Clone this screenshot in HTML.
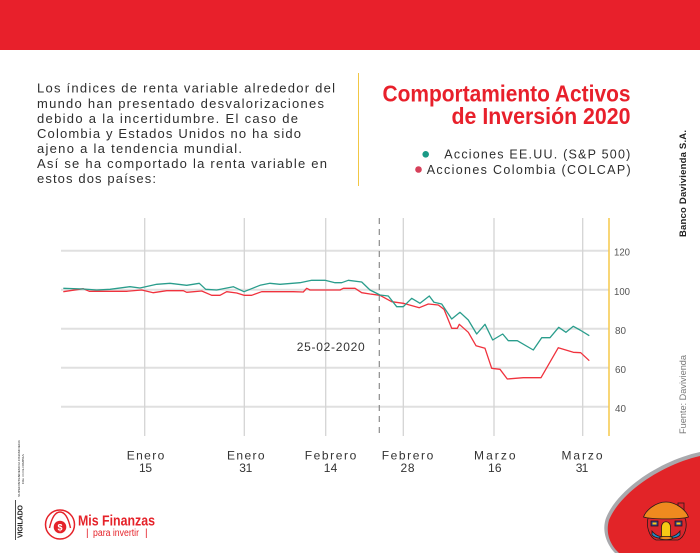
<!DOCTYPE html>
<html>
<head>
<meta charset="utf-8">
<style>
html,body{margin:0;padding:0;background:#fff;}
body{width:700px;height:553px;overflow:hidden;}
svg{display:block;}
text{font-family:"Liberation Sans",sans-serif;}
</style>
</head>
<body>
<svg width="700" height="553" viewBox="0 0 700 553" xmlns="http://www.w3.org/2000/svg">
  <!-- top red band -->
  <rect x="0" y="0" width="700" height="50" fill="#e8202b"/>

  <!-- paragraph -->
  <g fill="#2e2e2e" font-size="13" lengthAdjust="spacing">
    <text x="37" y="92.5" textLength="298" lengthAdjust="spacing">Los índices de renta variable alrededor del</text>
    <text x="37" y="108" textLength="287" lengthAdjust="spacing">mundo han presentado desvalorizaciones</text>
    <text x="37" y="123" textLength="261" lengthAdjust="spacing">debido a la incertidumbre. El caso de</text>
    <text x="37" y="138" textLength="264" lengthAdjust="spacing">Colombia y Estados Unidos no ha sido</text>
    <text x="37" y="153" textLength="205" lengthAdjust="spacing">ajeno a la tendencia mundial.</text>
    <text x="37" y="168" textLength="290" lengthAdjust="spacing">Así se ha comportado la renta variable en</text>
    <text x="37" y="183" textLength="119" lengthAdjust="spacing">estos dos países:</text>
  </g>

  <!-- separator -->
  <line x1="358.5" y1="73" x2="358.5" y2="186" stroke="#f2c744" stroke-width="1"/>

  <!-- title -->
  <g fill="#e8202b" font-weight="bold" font-size="23">
    <text x="382.5" y="101.5" textLength="248" lengthAdjust="spacingAndGlyphs">Comportamiento Activos</text>
    <text x="451.5" y="124" textLength="179" lengthAdjust="spacingAndGlyphs">de Inversión 2020</text>
  </g>

  <!-- legend -->
  <circle cx="425.7" cy="154.3" r="3.3" fill="#1a9a86"/>
  <text x="444.3" y="158.6" font-size="12.5" fill="#2e2e2e" textLength="186" lengthAdjust="spacing">Acciones EE.UU. (S&amp;P 500)</text>
  <circle cx="418.5" cy="169.5" r="3.3" fill="#d6405a"/>
  <text x="426.7" y="174" font-size="12.5" fill="#2e2e2e" textLength="204" lengthAdjust="spacing">Acciones Colombia (COLCAP)</text>

  <!-- vertical side texts -->
  <text transform="translate(686,237) rotate(-90)" font-size="9.5" font-weight="bold" fill="#222" textLength="107" lengthAdjust="spacing">Banco Davivienda S.A.</text>
  <text transform="translate(686,434) rotate(-90)" font-size="9" fill="#777" textLength="79" lengthAdjust="spacingAndGlyphs">Fuente: Davivienda</text>

  <!-- horizontal gridlines -->
  <g stroke="#e0e0e0" stroke-width="2">
    <line x1="61" y1="250.7" x2="609" y2="250.7"/>
    <line x1="61" y1="289.7" x2="609" y2="289.7"/>
    <line x1="61" y1="328.7" x2="609" y2="328.7"/>
    <line x1="61" y1="367.7" x2="609" y2="367.7"/>
    <line x1="61" y1="406.7" x2="609" y2="406.7"/>
  </g>
  <!-- vertical gridlines -->
  <g stroke="#d4d4d4" stroke-width="1.3">
    <line x1="144.7" y1="218" x2="144.7" y2="436"/>
    <line x1="244.3" y1="218" x2="244.3" y2="436"/>
    <line x1="325.7" y1="218" x2="325.7" y2="436"/>
    <line x1="403.3" y1="218" x2="403.3" y2="436"/>
    <line x1="494" y1="218" x2="494" y2="436"/>
    <line x1="582.7" y1="218" x2="582.7" y2="436"/>
  </g>
  <!-- dashed line -->
  <line x1="379.3" y1="218" x2="379.3" y2="437" stroke="#8a8a8a" stroke-width="1.2" stroke-dasharray="6,5"/>
  <!-- yellow axis -->
  <line x1="609" y1="218" x2="609" y2="436" stroke="#f5c84a" stroke-width="1.5"/>

  <!-- y tick labels -->
  <g font-size="10.5" fill="#555">
    <text x="614" y="255.5" textLength="16" lengthAdjust="spacingAndGlyphs">120</text>
    <text x="614" y="295" textLength="16" lengthAdjust="spacingAndGlyphs">100</text>
    <text x="615" y="334" textLength="11" lengthAdjust="spacingAndGlyphs">80</text>
    <text x="615" y="373" textLength="11" lengthAdjust="spacingAndGlyphs">60</text>
    <text x="615" y="412" textLength="11" lengthAdjust="spacingAndGlyphs">40</text>
  </g>

  <!-- date annotation -->
  <text x="296.7" y="351" font-size="12" fill="#333" textLength="68" lengthAdjust="spacing">25-02-2020</text>

  <!-- series: COLCAP red -->
  <polyline fill="none" stroke="#f0323d" stroke-width="1.3" stroke-linejoin="round" points="63.3,291.7 83.3,288.7 89.3,291.3 126.7,291.3 141.7,290 153.3,292.7 166.7,290.7 183.3,290.7 186.7,292.3 201.7,291 211.7,295.3 220,295.3 226.7,291.7 236.7,293 244,295.3 251.7,295.3 261.7,291.7 293.3,291.7 303.3,292 306.7,288.3 310,290 340,290 343.3,288.3 355,288.3 361.7,292.7 370,294 380,295.3 391.7,301.7 403.3,303.3 419.3,307.7 428.3,304 438.3,305 444,309.3 451.7,328.3 457.3,328.3 459.3,324.3 468.3,332.3 476,345.7 485,348.3 491.7,368.3 500,369.3 507.3,379 523.3,377.7 541,377.7 558.3,347.7 573.3,352.3 580.7,352.7 589.3,360.7"/>

  <!-- series: S&P teal -->
  <polyline fill="none" stroke="#2a9d8c" stroke-width="1.3" stroke-linejoin="round" points="63.3,288.3 83.3,289 96.7,290 110,289.3 130,286.7 140,288 156.7,284.3 170,283.3 186.7,285.3 199.3,283.3 205.7,289.3 216.7,290 233.3,286.7 244,291.7 260,285.3 270,283.3 280,284.3 300,282.7 311.7,280.3 325,280.3 335,282.7 341.7,282.7 348.3,280.3 361.7,282 370,290 380,295 388.3,296 396.7,306.7 403.3,306.7 411.7,298.3 420,303.3 429.3,296 434,302.3 441.7,304 451.7,319 460,312.3 468.3,320 476.7,334 485,324.3 492.7,340 502.7,334 508.3,340.7 517.3,340.7 533.3,350 541.7,337.7 550,337.7 558.7,327.3 566,332.3 573.3,326.3 580,330 589.3,335.7"/>

  <!-- x labels -->
  <g font-size="12" fill="#333" text-anchor="middle">
    <text x="145.5" y="459.5" textLength="37.5" lengthAdjust="spacing">Enero</text>
    <text x="145.5" y="472" textLength="13" lengthAdjust="spacing">15</text>
    <text x="245.8" y="459.5" textLength="37.5" lengthAdjust="spacing">Enero</text>
    <text x="245.8" y="472" textLength="13" lengthAdjust="spacing">31</text>
    <text x="330.5" y="459.5" textLength="51.5" lengthAdjust="spacing">Febrero</text>
    <text x="330.5" y="472" textLength="13.5" lengthAdjust="spacing">14</text>
    <text x="407.5" y="459.5" textLength="51.5" lengthAdjust="spacing">Febrero</text>
    <text x="407.5" y="472" textLength="14" lengthAdjust="spacing">28</text>
    <text x="494.8" y="459.5" textLength="41.5" lengthAdjust="spacing">Marzo</text>
    <text x="494.8" y="472" textLength="13.5" lengthAdjust="spacing">16</text>
    <text x="582" y="459.5" textLength="41" lengthAdjust="spacing">Marzo</text>
    <text x="582" y="472" textLength="12.5" lengthAdjust="spacing">31</text>
  </g>

  <!-- VIGILADO block -->
  <line x1="15.5" y1="500" x2="15.5" y2="540" stroke="#222" stroke-width="0.8"/>
  <text transform="translate(22.5,538) rotate(-90)" font-size="7" font-weight="bold" fill="#222" textLength="33" lengthAdjust="spacing">VIGILADO</text>
  <text transform="translate(20,497) rotate(-90)" font-size="3" fill="#333" textLength="57" lengthAdjust="spacingAndGlyphs">SUPERINTENDENCIA FINANCIERA</text>
  <text transform="translate(24,484) rotate(-90)" font-size="3" fill="#333" textLength="30" lengthAdjust="spacingAndGlyphs">DE COLOMBIA</text>

  <!-- Mis Finanzas logo -->
  <circle cx="60" cy="524.5" r="14.5" fill="none" stroke="#e52229" stroke-width="1.5"/>
  <path d="M49.5,528 Q53,512 60,512 Q67,512 70.5,528" fill="none" stroke="#e52229" stroke-width="1.4"/>
  <circle cx="60" cy="527" r="6.3" fill="#e52229"/>
  <text x="60" y="530.5" font-size="9" font-weight="bold" fill="#fff" text-anchor="middle">$</text>
  <text x="78" y="525.5" font-size="15" font-weight="bold" fill="#e52229" textLength="77" lengthAdjust="spacingAndGlyphs">Mis Finanzas</text>
  <text x="86" y="536" font-size="10" fill="#e52229">|</text>
  <text x="93" y="536" font-size="10" fill="#e52229" textLength="46" lengthAdjust="spacingAndGlyphs">para invertir</text>
  <text x="145" y="536" font-size="10" fill="#e52229">|</text>

  <!-- bottom right blob -->
  <path d="M700,452 C662,460 618,488 606,518 C601,532 608,546 615,553 L700,553 Z" fill="#a9a9ad"/>
  <path d="M700,456 C664,464 621,491 609,520 C605,534 611,546 619,553 L700,553 Z" fill="#e22428"/>

  <!-- house icon -->
  <g stroke="#2a1a1a" stroke-width="0.8">
    <path d="M648,518 C646,526 649,537 656,540 L678,540 C685,537 688,526 685,518 Z" fill="#d9262c"/>
    <rect x="678" y="503" width="6" height="8" fill="#d9262c"/>
    <path d="M643.5,517 C646,510 656,502 666,502 C676,502 686,510 688.5,517 C680,519.5 652,519.5 643.5,517 Z" fill="#ef8a1f"/>
    <rect x="651" y="521" width="7" height="5" fill="#2a3a8a"/>
    <rect x="675" y="521" width="7" height="5" fill="#2a3a8a"/>
    <path d="M661.5,537 L661.5,527 C661.5,520 670.5,520 670.5,527 L670.5,537 Z" fill="#f6c915"/>
    <path d="M652,531 C656,536 660,537 666,537 C672,537 676,536 680,531 L680,535 C676,540 656,540 652,535 Z" fill="#1f8bc9"/>
    <ellipse cx="666" cy="538" rx="6.5" ry="1.6" fill="#ef8a1f"/>
  </g>
  <rect x="652.5" y="522.5" width="4" height="2" fill="#f6c915"/>
  <rect x="676.5" y="522.5" width="4" height="2" fill="#f6c915"/>
</svg>
</body>
</html>
